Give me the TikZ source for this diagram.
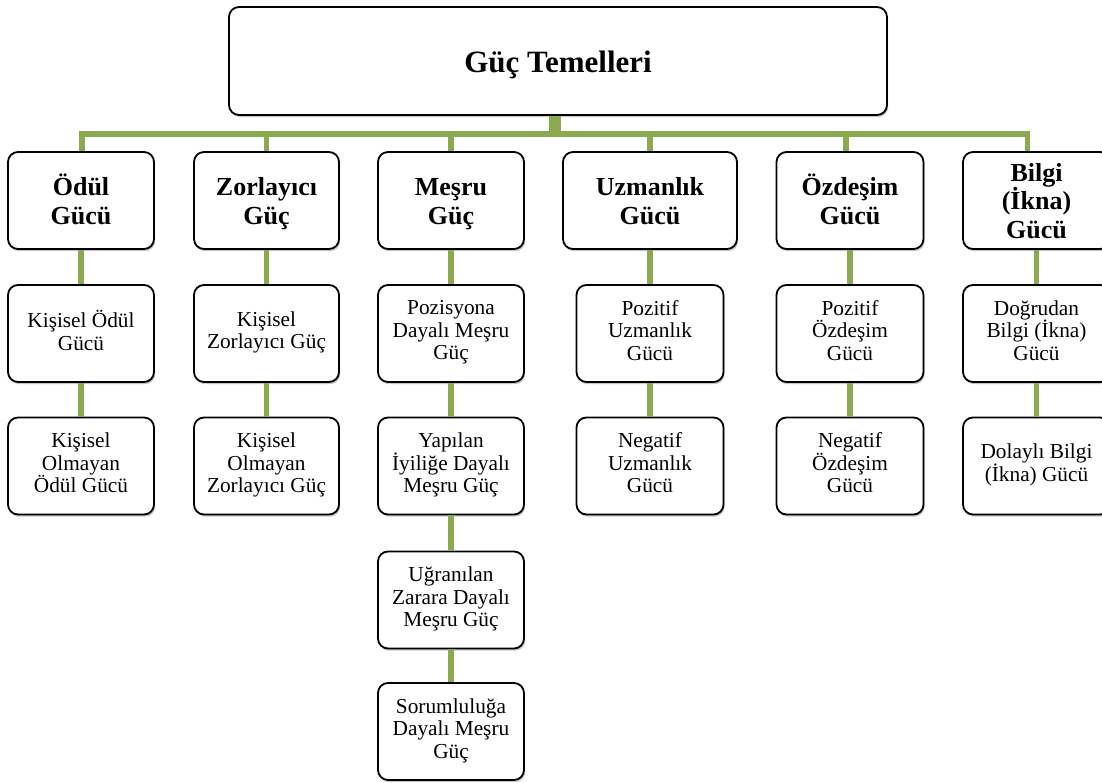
\documentclass[tikz,border=0pt]{standalone}
\usepackage{fontspec}
\setmainfont{Liberation Serif}
\usetikzlibrary{shadows}
\definecolor{lineGreen}{RGB}{139,170,80}
\newcommand\topstrut{\rule{0pt}{0.95\baselineskip}}
\tikzset{
  box/.style={draw=black, line width=1.8pt, rounded corners=10pt, fill=white, align=center, inner sep=2pt,
    execute at end node={\strut},
    drop shadow={shadow xshift=1.2pt, shadow yshift=-2.2pt, opacity=0.22, fill=black}},
  rootbox/.style={box, execute at begin node={\rule{0pt}{1.0\baselineskip}}},
  head/.style={box, minimum height=97pt, font=\fontsize{26}{28.5}\selectfont\bfseries},
  leaf/.style={box, minimum width=146pt, minimum height=97pt, font=\fontsize{21.3}{22.5}\selectfont,
    execute at begin node={\rule{0pt}{0.88\baselineskip}}},
  conn/.style={draw=lineGreen, line width=5.5pt},
  stub/.style={draw=lineGreen, line width=12pt},
}
\begin{document}
\begin{tikzpicture}[x=1pt,y=-1pt]
\useasboundingbox (0,0) rectangle (1102,783);
% root
\node[rootbox, minimum width=658pt, minimum height=108pt, font=\fontsize{31}{33}\selectfont\bfseries] (top) at (558,61) {Güç Temelleri};
% level 1
\node[head, minimum width=146pt] (odul)  at (81,200.5)   {\topstrut Ödül\\Gücü};
\node[head, minimum width=145pt] (zorl)  at (266.5,200.5) {\topstrut Zorlayıcı\\Güç};
\node[head, minimum width=146pt] (mesru) at (451,200.5)  {\topstrut Meşru\\Güç};
\node[head, minimum width=174pt] (uzm)   at (650,200.5)  {\topstrut Uzmanlık\\Gücü};
\node[head, minimum width=147pt] (ozd)   at (850,200.5)  {\topstrut Özdeşim\\Gücü};
\node[head, minimum width=147pt] (bilgi) at (1036.5,200.5) {\topstrut Bilgi\\(İkna)\\Gücü};
% level 2
\node[leaf] (k1) at (81,333.5)    {Kişisel Ödül\\Gücü};
\node[leaf, minimum width=145pt] (z1) at (266.5,333.5) {Kişisel\\Zorlayıcı Güç};
\node[leaf] (m1) at (451,333.5)   {Pozisyona\\Dayalı Meşru\\Güç};
\node[leaf, minimum width=147pt] (u1) at (650,333.5)   {Pozitif\\Uzmanlık\\Gücü};
\node[leaf, minimum width=147pt] (o1) at (850,333.5)   {Pozitif\\Özdeşim\\Gücü};
\node[leaf, minimum width=147pt] (b1) at (1036.5,333.5) {Doğrudan\\Bilgi (İkna)\\Gücü};
% level 3
\node[leaf] (k2) at (81,466)    {Kişisel\\Olmayan\\Ödül Gücü};
\node[leaf, minimum width=145pt] (z2) at (266.5,466) {Kişisel\\Olmayan\\Zorlayıcı Güç};
\node[leaf] (m2) at (451,466)   {Yapılan\\İyiliğe Dayalı\\Meşru Güç};
\node[leaf, minimum width=147pt] (u2) at (650,466)   {Negatif\\Uzmanlık\\Gücü};
\node[leaf, minimum width=147pt] (o2) at (850,466)   {Negatif\\Özdeşim\\Gücü};
\node[leaf, minimum width=147pt] (b2) at (1036.5,466) {Dolaylı Bilgi\\(İkna) Gücü};
% Meşru extra levels
\node[leaf] (m3) at (451,600)   {Uğranılan\\Zarara Dayalı\\Meşru Güç};
\node[leaf] (m4) at (451,731.5) {Sorumluluğa\\Dayalı Meşru\\Güç};
% connectors
\coordinate (bar) at (555,134);
\coordinate (barlow) at (555,137);
\draw[stub] (top.south -| bar) -- (barlow);
\draw[conn] ([xshift=1pt]odul.north) |- (bar);
\draw[conn] (zorl.north) |- (bar);
\draw[conn] (mesru.north) |- (bar);
\draw[conn] (uzm.north) |- (bar);
\draw[conn] ([xshift=-4pt]ozd.north) |- (bar);
\draw[conn] ([xshift=-9pt]bilgi.north) |- (bar);
\foreach \a/\b in {odul/k1,k1/k2,zorl/z1,z1/z2,mesru/m1,m1/m2,m2/m3,m3/m4,uzm/u1,u1/u2,ozd/o1,o1/o2,bilgi/b1,b1/b2}
  \draw[conn] (\a.south) -- (\b.north);
\end{tikzpicture}
\end{document}
